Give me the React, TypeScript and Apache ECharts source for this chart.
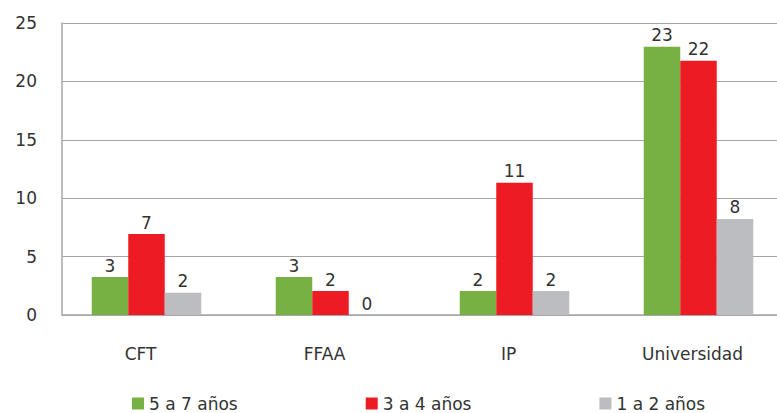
import React, { useEffect, useRef } from "react";
import * as echarts from "echarts";

const categories = ["CFT", "FFAA", "IP", "Universidad"];
const seriesNames = ["5 a 7 años", "3 a 4 años", "1 a 2 años"];
const s5a7 = [3.25, 3.25, 2.05, 22.97];
const s3a4 = [6.93, 2.05, 11.33, 21.77];
const s1a2 = [1.91, 0, 2.05, 8.22];
const colors = ["#77B143", "#ED1C24", "#BCBDC0"];
const yTicks = { min: 0, max: 25, interval: 5 };

export default function App() {
  const ref = useRef<HTMLDivElement>(null);
  useEffect(() => {
    document.body.style.margin = "0";
    const chart = echarts.init(ref.current!, null, { renderer: "svg" });
    const font = "'DejaVu Sans', Verdana, sans-serif";
    const label = {
      show: true,
      position: "top",
      distance: 3,
      color: "#333333",
      fontSize: 17,
      fontFamily: font,
      formatter: (p: any) => String(Math.round(p.value)),
    };
    const data = [s5a7, s3a4, s1a2];
    const series: any[] = seriesNames.map((name, i) => ({
      name,
      type: "bar",
      data: data[i],
      barWidth: 36.5,
      barGap: "0%",
      itemStyle: { color: colors[i] },
      label,
    }));
    // spacer series (no data) to reproduce the off-centre group position
    series.push({
      name: "spacer",
      type: "bar",
      data: [],
      barWidth: 15,
      barGap: "0%",
      silent: true,
    });
    chart.setOption({
      animation: false,
      textStyle: { fontFamily: font },
      grid: {
        left: 62,
        top: 23,
        width: 736,
        height: 292,
        outerBoundsMode: "none",
        containLabel: false,
      },
      legend: {
        data: seriesNames,
        left: 132,
        top: 395,
        padding: 0,
        itemWidth: 12,
        itemHeight: 12,
        itemGap: 128,
        icon: "rect",
        textStyle: { fontSize: 17, color: "#333333", fontFamily: font },
      },
      xAxis: {
        type: "category",
        data: categories,
        axisLine: { lineStyle: { color: "#A6A6A6", width: 1.5 } },
        axisTick: { show: false },
        axisLabel: {
          fontSize: 17,
          color: "#333333",
          margin: 30,
          padding: [0, 27, 0, 0],
          fontFamily: font,
        },
      },
      yAxis: {
        type: "value",
        ...yTicks,
        axisLine: { show: true, lineStyle: { color: "#A6A6A6", width: 1.5 } },
        axisTick: { show: false },
        splitLine: { lineStyle: { color: "#A6A6A6", width: 1.2 } },
        axisLabel: { fontSize: 17, color: "#333333", margin: 25, fontFamily: font },
      },
      series,
    });
    return () => chart.dispose();
  }, []);
  return (
    <div
      ref={ref}
      style={{ position: "absolute", left: 0, top: 0, width: 777, height: 413 }}
    />
  );
}
